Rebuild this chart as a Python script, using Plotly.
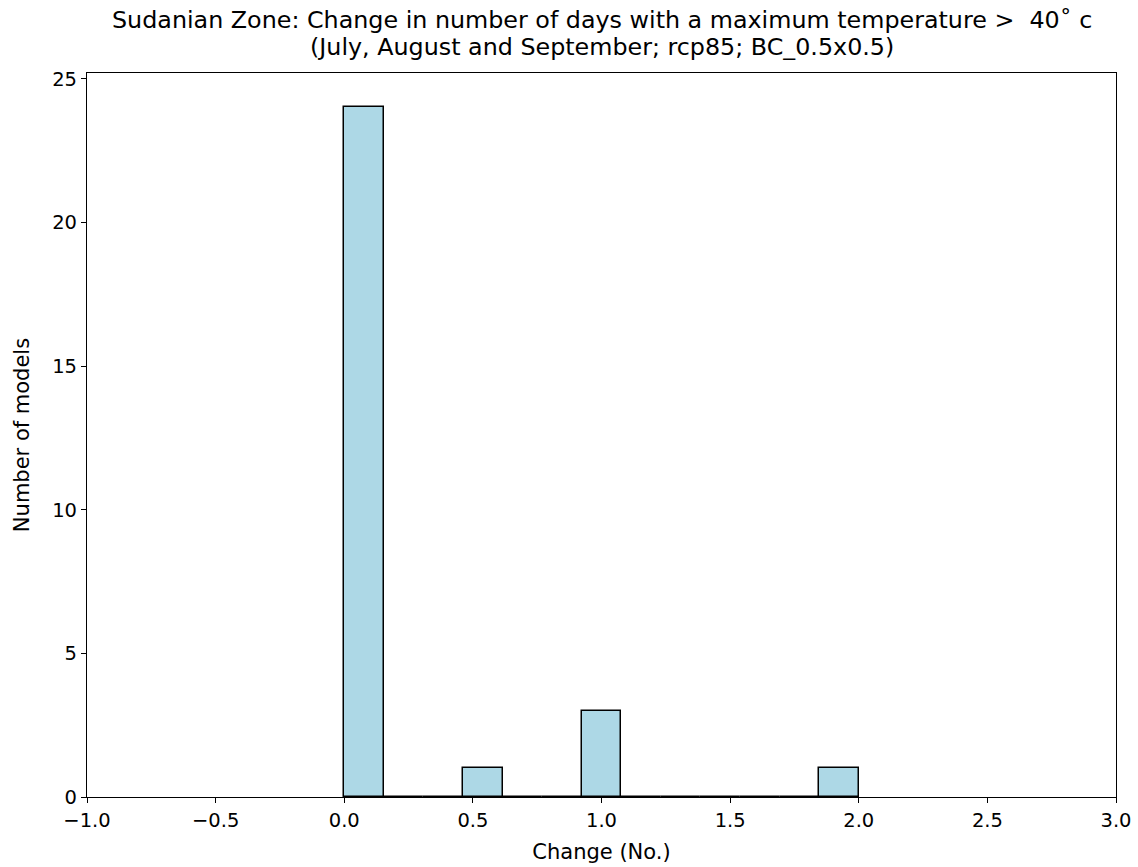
import plotly.graph_objects as go

# Histogram data (13 bins from 0 to 2)
bin_edges = [0.0, 2/13, 4/13, 6/13, 8/13, 10/13, 12/13, 14/13, 16/13, 18/13, 20/13, 22/13, 24/13, 2.0]
counts = [24, 0, 0, 1, 0, 0, 3, 0, 0, 0, 0, 0, 1]

x_ticks = [-1.0, -0.5, 0.0, 0.5, 1.0, 1.5, 2.0, 2.5, 3.0]
y_ticks = [0, 5, 10, 15, 20, 25]

title_line1 = "Sudanian Zone: Change in number of days with a maximum temperature >  40˚ c"
title_line2 = "(July, August and September; rcp85; BC_0.5x0.5)"

centers = [(bin_edges[i] + bin_edges[i + 1]) / 2 for i in range(len(counts))]
widths = [bin_edges[i + 1] - bin_edges[i] for i in range(len(counts))]

FONT = "DejaVu Sans"
TICK = 19.5
LAB = 21
TIT = 23.8

W, H = 1138, 867
ML, MR, MT, MB = 87, 22, 73, 70
PH = H - MT - MB

def py(fig_y):
    return 1 + (MT - fig_y) / PH

fig = go.Figure()
fig.add_trace(go.Bar(
    x=centers, y=counts, width=widths,
    marker=dict(color="#add8e6", line=dict(color="black", width=1.5)),
    showlegend=False,
))

fig.update_layout(
    width=W, height=H,
    margin=dict(l=ML, r=MR, t=MT, b=MB),
    paper_bgcolor="white", plot_bgcolor="white",
    font=dict(family=FONT, size=TICK, color="black"),
    bargap=0,
    annotations=[
        dict(text=title_line1, xref="paper", yref="paper", x=0.5, y=py(20),
             xanchor="center", yanchor="middle", showarrow=False,
             font=dict(family=FONT, size=TIT, color="black")),
        dict(text=title_line2, xref="paper", yref="paper", x=0.5, y=py(47),
             xanchor="center", yanchor="middle", showarrow=False,
             font=dict(family=FONT, size=TIT, color="black")),
    ],
)

fig.update_xaxes(
    range=[-1, 3], tickvals=x_ticks, tickformat=".1f", automargin=False,
    showgrid=False, zeroline=False,
    showline=True, linecolor="black", linewidth=1.2, mirror=True,
    ticks="outside", ticklen=5, tickwidth=1.2, tickcolor="black",
    tickfont=dict(family=FONT, size=TICK, color="black"),
    title=dict(text="Change (No.)", font=dict(family=FONT, size=LAB, color="black"), standoff=13),
)
fig.update_yaxes(
    range=[0, 25.2], tickvals=y_ticks, automargin=False,
    showgrid=False, zeroline=False,
    showline=True, linecolor="black", linewidth=1.2, mirror=True,
    ticks="outside", ticklen=5, tickwidth=1.2, tickcolor="black",
    tickfont=dict(family=FONT, size=TICK, color="black"),
    title=dict(text="Number of models", font=dict(family=FONT, size=LAB, color="black"), standoff=16),
)

fig.write_html("out.html", config={"displayModeBar": False},
               post_script="document.body.style.margin='0';")
